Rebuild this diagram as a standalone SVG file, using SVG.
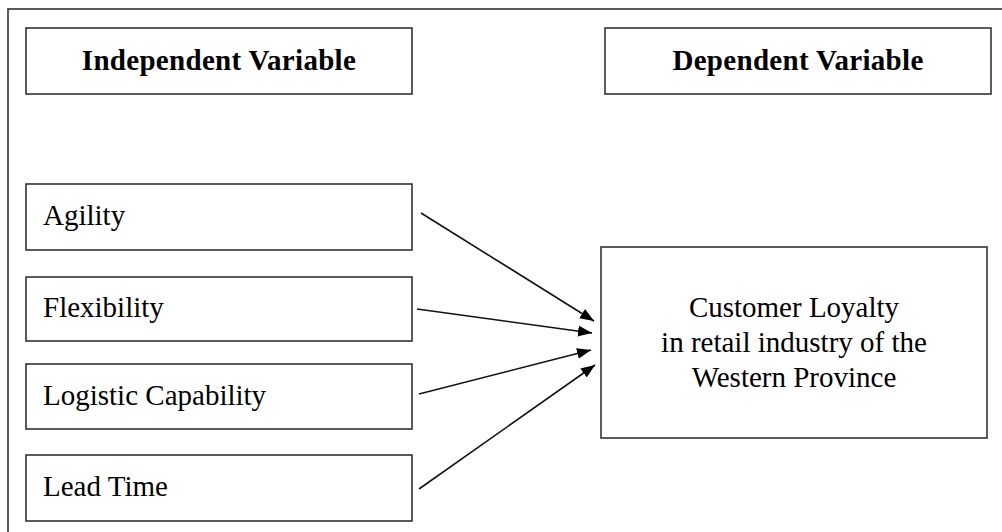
<svg xmlns="http://www.w3.org/2000/svg" width="1002" height="532" viewBox="0 0 1002 532">
<style>
.box{fill:#fff;stroke:#333;stroke-width:1.6}
.hd{font-family:"Liberation Serif",serif;font-size:29px;font-weight:bold;fill:#000;text-anchor:middle;letter-spacing:0.3px}
.tx{font-family:"Liberation Serif",serif;font-size:29px;fill:#000}
.ct{font-family:"Liberation Serif",serif;font-size:29px;fill:#000;text-anchor:middle}
.ln{stroke:#111;stroke-width:1.6;fill:none}
</style>
<defs>
<marker id="ah" markerWidth="15" markerHeight="12" refX="14" refY="5.5" orient="auto" markerUnits="userSpaceOnUse">
<path d="M0,0 L14,5.5 L0,11 Z" fill="#000"/>
</marker>
</defs>
<rect x="8" y="9" width="1000" height="530" fill="#fff" stroke="#333" stroke-width="1.6"/>
<g id="independent">
<rect class="box" x="26" y="28" width="386" height="66"/>
<text class="hd" x="219" y="70">Independent Variable</text>
</g>
<g id="dependent">
<rect class="box" x="605" y="28" width="386" height="66"/>
<text class="hd" x="798" y="70">Dependent Variable</text>
</g>
<g id="agility">
<rect class="box" x="26" y="184" width="386" height="66"/>
<text class="tx" x="43" y="225">Agility</text>
</g>
<g id="flexibility">
<rect class="box" x="26" y="277" width="386" height="64"/>
<text class="tx" x="43" y="317">Flexibility</text>
</g>
<g id="logistic">
<rect class="box" x="26" y="364" width="386" height="65"/>
<text class="tx" x="43" y="405">Logistic Capability</text>
</g>
<g id="leadtime">
<rect class="box" x="26" y="455" width="386" height="66"/>
<text class="tx" x="43" y="496">Lead Time</text>
</g>
<g id="loyalty">
<rect class="box" x="601" y="247" width="386" height="191"/>
<text class="ct" x="794" y="317">Customer Loyalty</text>
<text class="ct" x="794" y="352">in retail industry of the</text>
<text class="ct" x="794" y="387">Western Province</text>
</g>
<g id="connectors">
<line class="ln" x1="421" y1="213" x2="594" y2="321" marker-end="url(#ah)"/>
<line class="ln" x1="417" y1="309" x2="592" y2="333" marker-end="url(#ah)"/>
<line class="ln" x1="419" y1="394" x2="591" y2="350" marker-end="url(#ah)"/>
<line class="ln" x1="419" y1="489" x2="595" y2="365" marker-end="url(#ah)"/>
</g>
</svg>
